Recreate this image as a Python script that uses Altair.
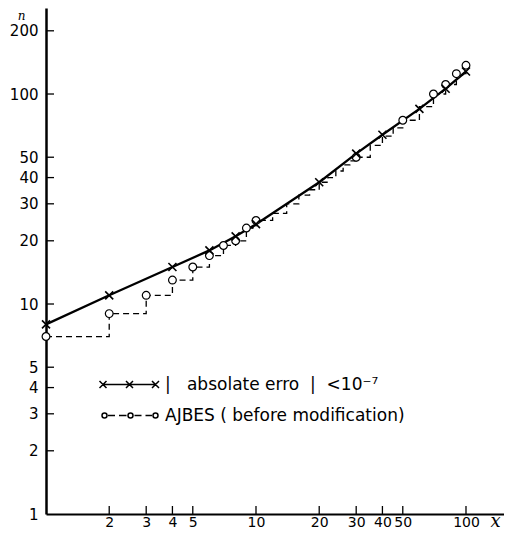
import altair as alt
import pandas as pd

# |absolute error| < 1e-7 series (solid line with x markers)
sol_x = [1, 2, 4, 6, 8, 10, 20, 30, 40, 60, 80, 100]
sol_n = [8, 11, 15, 18, 21, 24, 38, 52, 64, 85, 106, 128]

# AJBES (before modification): step series (dashed) and the points drawn as circles
aj_x = [1, 2, 3, 4, 5, 6, 7, 8, 9, 10, 12, 14, 16, 18, 20, 22, 24, 26, 28, 30,
        35, 40, 45, 50, 60, 70, 80, 90, 100]
aj_n = [7, 9, 11, 13, 15, 17, 19, 20, 23, 25, 27, 30, 33, 35, 38, 40, 43, 46, 48, 50,
        57, 63, 69, 75, 87, 100, 111, 125, 137]
aj_circle_x = [1, 2, 3, 4, 5, 6, 7, 8, 9, 10, 30, 50, 70, 80, 90, 100]

x_ticks = [2, 3, 4, 5, 10, 20, 30, 40, 50, 100]
y_ticks = [2, 3, 4, 5, 10, 20, 30, 40, 50, 100, 200]
y_labels = [1] + y_ticks

NB = "\u00a0"
series_names = [NB * 3 + "|" + NB * 3 + "absolate erro" + NB * 2 + "|" + NB * 2 + "<10\u207b\u2077",
                "AJBES ( before modification)"]

W, H = 458, 506
FONT = "DejaVu Sans"

sol = pd.DataFrame({"x": sol_x, "n": sol_n})
aj = pd.DataFrame({"x": aj_x, "n": aj_n})
ajc = aj[aj["x"].isin(aj_circle_x)]
xt = pd.DataFrame({"v": x_ticks})
yt = pd.DataFrame({"v": y_ticks})
leg = pd.DataFrame({"s": series_names})

xs = alt.Scale(type="log", domain=[1, 151.7], nice=False)
ys = alt.Scale(type="log", domain=[1, 256.8], nice=False)

XPATH = "M-1,-1L1,1M-1,1L1,-1"


def circ(cx, r):
    return f"M{cx - r},0A{r},{r} 0 1,0 {cx + r},0A{r},{r} 0 1,0 {cx - r},0"


h = 0.7
P1 = "M-5.5,0L5.3,0" + "".join(
    f"M{c - h},{-h}L{c + h},{h}M{c - h},{h}L{c + h},{-h}" for c in (-5.5, -0.2, 5.0)
)
P2 = "".join(circ(c, 0.5) for c in (-5.2, 0, 5.0)) + \
    "M-4.5,0L-3.1,0M-2.3,0L-0.8,0M0.8,0L2.2,0M3.0,0L4.3,0"

x_axis = alt.Axis(values=x_ticks, ticks=False, grid=False, domainColor="black",
                  domainWidth=2, labelFont=FONT, labelFontSize=14, labelColor="black",
                  labelPadding=1, labelFlush=False, labelOverlap=False, format="d",
                  title="x", titleFont="DejaVu Serif", titleFontStyle="italic",
                  titleFontWeight="normal", titleFontSize=18, titleColor="black",
                  titleX=449, titleY=12, titleAlign="center", titleBaseline="alphabetic")
y_axis = alt.Axis(values=y_labels, ticks=False, grid=False, domainColor="black",
                  domainWidth=2.5, labelFont=FONT, labelFontSize=15, labelColor="black",
                  labelPadding=8, labelOverlap=False, format="d",
                  title="n", titleFont="DejaVu Serif", titleFontStyle="italic",
                  titleFontWeight="normal", titleFontSize=12, titleColor="black",
                  titleAngle=0, titleX=-25, titleY=11.5, titleAlign="center",
                  titleBaseline="alphabetic")

X = lambda f: alt.X(f, scale=xs, axis=x_axis)
Y = lambda f: alt.Y(f, scale=ys, axis=y_axis)

steps = alt.Chart(aj).mark_line(interpolate="step-after", strokeDash=[6, 4],
                                strokeWidth=1.3, color="black").encode(
    x=X("x:Q"), y=Y("n:Q"),
)
solid = alt.Chart(sol).mark_line(strokeWidth=2.3, color="black").encode(
    x=X("x:Q"), y=Y("n:Q"),
)
crosses = alt.Chart(sol).mark_point(shape=XPATH, size=64, filled=False, color="black",
                                    strokeWidth=1.6, opacity=1).encode(
    x=X("x:Q"), y=Y("n:Q"),
)
circles = alt.Chart(ajc).mark_point(shape="circle", size=60, filled=True, fill="white",
                                    stroke="black", strokeWidth=1.2, opacity=1).encode(
    x=X("x:Q"), y=Y("n:Q"),
)
xtick = alt.Chart(xt).mark_rule(strokeWidth=1.3, color="black").encode(
    x=X("v:Q"),
    y=alt.value(H - 8), y2=alt.value(H),
)
ytick = alt.Chart(yt).mark_rule(strokeWidth=1.3, color="black").encode(
    y=Y("v:Q"),
    x=alt.value(0), x2=alt.value(8),
)
legend_proxy = alt.Chart(leg).mark_point(opacity=0, size=100, filled=False,
                                         color="black").encode(
    shape=alt.Shape("s:N", scale=alt.Scale(domain=series_names, range=[P1, P2]),
                    legend=alt.Legend(orient="none", legendX=76, legendY=368, title=None,
                                      padding=0, symbolOpacity=1, symbolSize=100,
                                      symbolStrokeWidth=1.5, symbolStrokeColor="black",
                                      symbolFillColor="white", labelFont=FONT,
                                      labelFontSize=17, labelColor="black",
                                      labelOffset=26, rowPadding=13, labelLimit=400)),
)

chart = alt.layer(steps, solid, circles, crosses, xtick, ytick, legend_proxy).properties(
    width=W, height=H,
    padding={"left": 38, "top": 0, "right": 0, "bottom": 17},
    autosize=alt.AutoSizeParams(type="none"),
    background="white",
).configure_view(stroke=None)

chart.save("out.html", embed_options={"renderer": "svg", "actions": False})
